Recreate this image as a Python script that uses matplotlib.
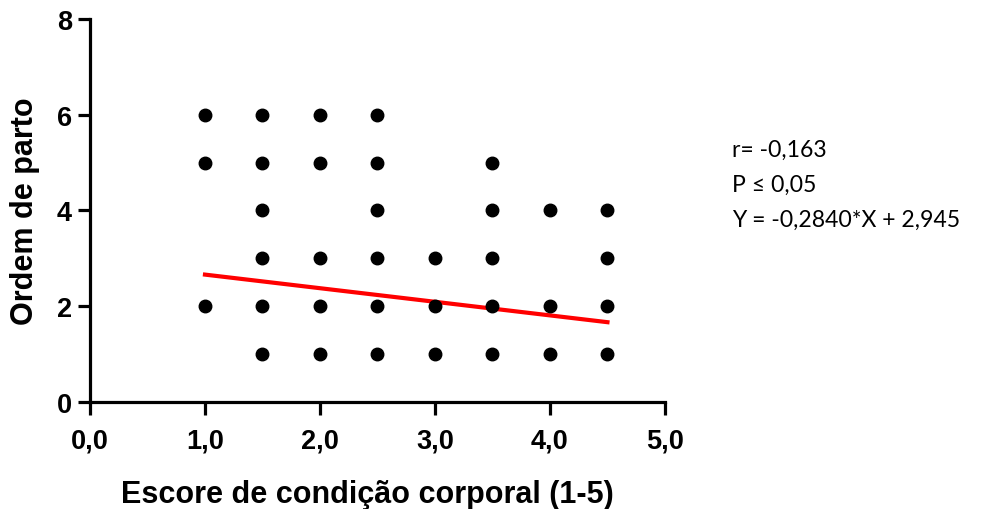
import numpy as np
import matplotlib
matplotlib.use("Agg")
import matplotlib.pyplot as plt

# scatter data: body condition score vs calving order
escore = [1.0, 1.0, 1.0,
          1.5, 1.5, 1.5, 1.5, 1.5, 1.5,
          2.0, 2.0, 2.0, 2.0, 2.0,
          2.5, 2.5, 2.5, 2.5, 2.5, 2.5,
          3.0, 3.0, 3.0,
          3.5, 3.5, 3.5, 3.5, 3.5,
          4.0, 4.0, 4.0,
          4.5, 4.5, 4.5, 4.5]
ordem = [6, 5, 2,
         6, 5, 4, 3, 2, 1,
         6, 5, 3, 2, 1,
         6, 5, 4, 3, 2, 1,
         3, 2, 1,
         5, 4, 3, 2, 1,
         4, 2, 1,
         4, 3, 2, 1]

slope = -0.2840
intercept = 2.945
stats_lines = ["r= -0,163", "P \u2264 0,05", "Y = -0,2840*X + 2,945"]

xticks = [0, 1, 2, 3, 4, 5]
xtick_labels = ["0,0", "1,0", "2,0", "3,0", "4,0", "5,0"]
yticks = [0, 2, 4, 6, 8]

plt.rcParams['font.family'] = ['Liberation Sans', 'DejaVu Sans']

fig = plt.figure(figsize=(9.91, 5.10), dpi=100)
ax = fig.add_axes([0.0908, 0.2098, 0.5802, 0.751])

ax.plot(escore, ordem, 'o', color='black', markersize=9, zorder=3, clip_on=False)

fit_x = np.array([min(escore), max(escore)])
ax.plot(fit_x, slope * fit_x + intercept, color='#ff0000', linewidth=3, zorder=2)

ax.set_xlim(0, 5)
ax.set_ylim(0, 8)
ax.set_xticks(xticks)
ax.set_xticklabels(xtick_labels)
ax.set_yticks(yticks)

for side in ['top', 'right']:
    ax.spines[side].set_visible(False)
for side in ['left', 'bottom']:
    ax.spines[side].set_linewidth(2.3)

ax.tick_params(axis='both', width=2.3, length=9, labelsize=19.5)
ax.tick_params(axis='x', pad=9)
ax.tick_params(axis='y', pad=4)
for lab in ax.get_xticklabels() + ax.get_yticklabels():
    lab.set_fontweight('bold')

ax.set_xlabel("Escore de condição corporal (1-5)", fontsize=22, fontweight='bold', va='center')
ax.xaxis.set_label_coords(0.482, -0.24)
ax.set_ylabel("Ordem de parto", fontsize=22, fontweight='bold', va='center')
ax.yaxis.set_label_coords(-0.113, 0.5)

for i, line in enumerate(stats_lines):
    fig.text(0.739, 0.705 - i * 0.069, line, fontsize=16.6, family=['Lato', 'DejaVu Sans'],
             va='center', ha='left')

fig.savefig("out.png", dpi=100)
